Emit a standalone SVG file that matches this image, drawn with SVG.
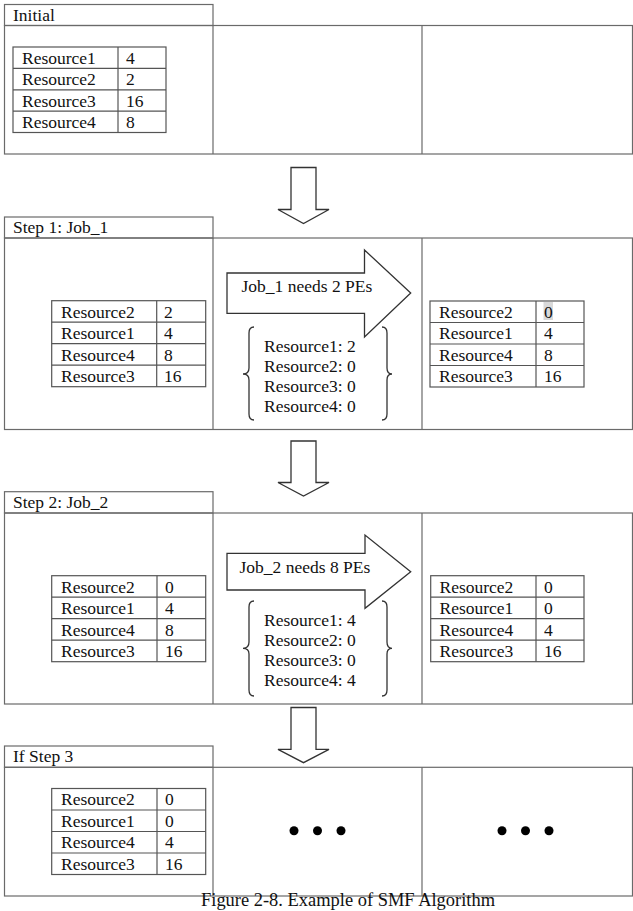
<svg xmlns="http://www.w3.org/2000/svg" width="633" height="911" viewBox="0 0 633 911">
<style>
text{font-family:"Liberation Serif","Times New Roman",serif;font-size:17.5px;fill:#111}
.box{fill:none;stroke:#6a6a6a;stroke-width:1.2}
.tbl{fill:none;stroke:#555;stroke-width:1.2}
.arr{fill:#fff;stroke:#333;stroke-width:1.3;stroke-linejoin:miter}
.brace{fill:none;stroke:#333;stroke-width:1.3}
.dot{fill:#000}
</style>
<defs>
<clipPath id="clipS2"><rect x="250" y="330" width="140" height="83.5"/></clipPath>
</defs>
<rect width="633" height="911" fill="#fff"/>

<!-- Section 1 -->
<g id="section-initial">
<rect class="box" x="4.5" y="4.5" width="208.5" height="21"/>
<text x="13" y="20.5">Initial</text>
<rect class="box" x="4.5" y="25.5" width="628" height="128.5"/>
<line class="box" x1="213" y1="25.5" x2="213" y2="154"/>
<line class="box" x1="422" y1="25.5" x2="422" y2="154"/>
</g>
<g id="table-initial">
<rect class="tbl" x="13" y="47" width="153" height="85.5"/>
<line class="tbl" x1="118" y1="47" x2="118" y2="132.5"/>
<line class="tbl" x1="13" y1="68.4" x2="166" y2="68.4"/>
<line class="tbl" x1="13" y1="89.8" x2="166" y2="89.8"/>
<line class="tbl" x1="13" y1="111.2" x2="166" y2="111.2"/>
<text x="22" y="64">Resource1</text><text x="126" y="64">4</text>
<text x="22" y="85.4">Resource2</text><text x="126" y="85.4">2</text>
<text x="22" y="106.8">Resource3</text><text x="126" y="106.8">16</text>
<text x="22" y="128.2">Resource4</text><text x="126" y="128.2">8</text>
</g>

<!-- Section 2 -->
<g id="section-step1">
<rect class="box" x="4.5" y="217" width="208.5" height="21"/>
<text x="13" y="233">Step 1: Job_1</text>
<rect class="box" x="4.5" y="238" width="628" height="191.5"/>
<line class="box" x1="213" y1="238" x2="213" y2="429.5"/>
<line class="box" x1="422" y1="238" x2="422" y2="429.5"/>
</g>
<g id="table-step1-before">
<rect class="tbl" x="51.7" y="300.7" width="154" height="86"/>
<line class="tbl" x1="156.7" y1="300.7" x2="156.7" y2="386.7"/>
<line class="tbl" x1="51.7" y1="322.2" x2="205.7" y2="322.2"/>
<line class="tbl" x1="51.7" y1="343.7" x2="205.7" y2="343.7"/>
<line class="tbl" x1="51.7" y1="365.2" x2="205.7" y2="365.2"/>
<text x="61" y="317.5">Resource2</text><text x="164" y="317.5">2</text>
<text x="61" y="339">Resource1</text><text x="164" y="339">4</text>
<text x="61" y="360.5">Resource4</text><text x="164" y="360.5">8</text>
<text x="61" y="382">Resource3</text><text x="164" y="382">16</text>
</g>
<g id="arrow-job1">
<polygon class="arr" points="227,273 364.5,273 364.5,250 410.7,293 364.5,337 364.5,313.3 227,313.3"/>
<text x="241.5" y="292">Job_1 needs 2 PEs</text>
</g>
<g id="alloc-job1">
<path class="brace" d="M254,327 Q249,327 249,333 L249,368 Q249,374 243,374 Q249,374 249,380 L249,414 Q249,420 254,420"/>
<path class="brace" d="M382,327 Q387,327 387,333 L387,368 Q387,374 392,374 Q387,374 387,380 L387,414 Q387,420 382,420"/>
<g clip-path="url(#clipS2)">
<text x="264" y="351.7">Resource1: 2</text>
<text x="264" y="371.7">Resource2: 0</text>
<text x="264" y="391.7">Resource3: 0</text>
<text x="264" y="411.7">Resource4: 0</text>
</g>
</g>
<g id="table-step1-after">
<rect fill="#d9d9d9" x="543.5" y="302" width="9.5" height="18"/>
<rect class="tbl" x="430" y="301" width="154" height="86"/>
<line class="tbl" x1="536" y1="301" x2="536" y2="387"/>
<line class="tbl" x1="430" y1="322.5" x2="584" y2="322.5"/>
<line class="tbl" x1="430" y1="344" x2="584" y2="344"/>
<line class="tbl" x1="430" y1="365.5" x2="584" y2="365.5"/>
<text x="439" y="317.8">Resource2</text><text x="544" y="317.8">0</text>
<text x="439" y="339.3">Resource1</text><text x="544" y="339.3">4</text>
<text x="439" y="360.8">Resource4</text><text x="544" y="360.8">8</text>
<text x="439" y="382.3">Resource3</text><text x="544" y="382.3">16</text>
</g>

<!-- Section 3 -->
<g id="section-step2">
<rect class="box" x="4.5" y="491.7" width="208.5" height="21.3"/>
<text x="13" y="507.7">Step 2: Job_2</text>
<rect class="box" x="4.5" y="513" width="628" height="191"/>
<line class="box" x1="213" y1="513" x2="213" y2="704"/>
<line class="box" x1="422" y1="513" x2="422" y2="704"/>
</g>
<g id="table-step2-before">
<rect class="tbl" x="51.7" y="575.7" width="154" height="86"/>
<line class="tbl" x1="157" y1="575.7" x2="157" y2="661.7"/>
<line class="tbl" x1="51.7" y1="597.2" x2="205.7" y2="597.2"/>
<line class="tbl" x1="51.7" y1="618.7" x2="205.7" y2="618.7"/>
<line class="tbl" x1="51.7" y1="640.2" x2="205.7" y2="640.2"/>
<text x="61" y="592.5">Resource2</text><text x="165" y="592.5">0</text>
<text x="61" y="614">Resource1</text><text x="165" y="614">4</text>
<text x="61" y="635.5">Resource4</text><text x="165" y="635.5">8</text>
<text x="61" y="657">Resource3</text><text x="165" y="657">16</text>
</g>
<g id="arrow-job2">
<polygon class="arr" points="227,553.3 365,553.3 365,535 410.7,571.7 365,608.3 365,590 227,590"/>
<text x="239.5" y="573">Job_2 needs 8 PEs</text>
</g>
<g id="alloc-job2">
<path class="brace" d="M254,601 Q249,601 249,607 L249,642 Q249,648.3 243,648.3 Q249,648.3 249,654 L249,690 Q249,696 254,696"/>
<path class="brace" d="M382,601 Q387,601 387,607 L387,642 Q387,648.3 392,648.3 Q387,648.3 387,654 L387,690 Q387,696 382,696"/>
<text x="264" y="625.7">Resource1: 4</text>
<text x="264" y="645.7">Resource2: 0</text>
<text x="264" y="665.7">Resource3: 0</text>
<text x="264" y="685.7">Resource4: 4</text>
</g>
<g id="table-step2-after">
<rect class="tbl" x="430.7" y="575.7" width="153.3" height="86"/>
<line class="tbl" x1="536" y1="575.7" x2="536" y2="661.7"/>
<line class="tbl" x1="430.7" y1="597.2" x2="584" y2="597.2"/>
<line class="tbl" x1="430.7" y1="618.7" x2="584" y2="618.7"/>
<line class="tbl" x1="430.7" y1="640.2" x2="584" y2="640.2"/>
<text x="439.5" y="592.5">Resource2</text><text x="544" y="592.5">0</text>
<text x="439.5" y="614">Resource1</text><text x="544" y="614">0</text>
<text x="439.5" y="635.5">Resource4</text><text x="544" y="635.5">4</text>
<text x="439.5" y="657">Resource3</text><text x="544" y="657">16</text>
</g>

<!-- Section 4 -->
<g id="section-step3">
<rect class="box" x="4.5" y="746" width="208.5" height="21.3"/>
<text x="13" y="762">If Step 3</text>
<rect class="box" x="4.5" y="767.3" width="628" height="128.7"/>
<line class="box" x1="213" y1="767.3" x2="213" y2="896"/>
<line class="box" x1="422" y1="767.3" x2="422" y2="896"/>
</g>
<g id="table-step3">
<rect class="tbl" x="51.7" y="788.5" width="154" height="86"/>
<line class="tbl" x1="157" y1="788.5" x2="157" y2="874.5"/>
<line class="tbl" x1="51.7" y1="810" x2="205.7" y2="810"/>
<line class="tbl" x1="51.7" y1="831.5" x2="205.7" y2="831.5"/>
<line class="tbl" x1="51.7" y1="853" x2="205.7" y2="853"/>
<text x="61" y="805.3">Resource2</text><text x="165" y="805.3">0</text>
<text x="61" y="826.8">Resource1</text><text x="165" y="826.8">0</text>
<text x="61" y="848.3">Resource4</text><text x="165" y="848.3">4</text>
<text x="61" y="869.8">Resource3</text><text x="165" y="869.8">16</text>
</g>
<g id="ellipsis-middle">
<circle class="dot" cx="294" cy="830.7" r="4.5"/>
<circle class="dot" cx="317.5" cy="830.7" r="4.5"/>
<circle class="dot" cx="341" cy="830.7" r="4.5"/>
</g>
<g id="ellipsis-right">
<circle class="dot" cx="502" cy="830.7" r="4.5"/>
<circle class="dot" cx="525.5" cy="830.7" r="4.5"/>
<circle class="dot" cx="549" cy="830.7" r="4.5"/>
</g>

<!-- Connectors -->
<g id="connectors">
<polygon class="arr" points="291,167.5 316,167.5 316,209.5 329,209.5 303.5,223.5 278,209.5 291,209.5"/>
<polygon class="arr" points="291,441 316,441 316,482.5 329,482.5 303.5,496 278,482.5 291,482.5"/>
<polygon class="arr" points="291,707.5 316,707.5 316,749.3 329,749.3 303.5,762.7 278,749.3 291,749.3"/>
</g>

<g id="caption">
<text x="201" y="906" style="font-size:18px" textLength="294" lengthAdjust="spacingAndGlyphs">Figure 2-8. Example of SMF Algorithm</text>
</g>
</svg>
